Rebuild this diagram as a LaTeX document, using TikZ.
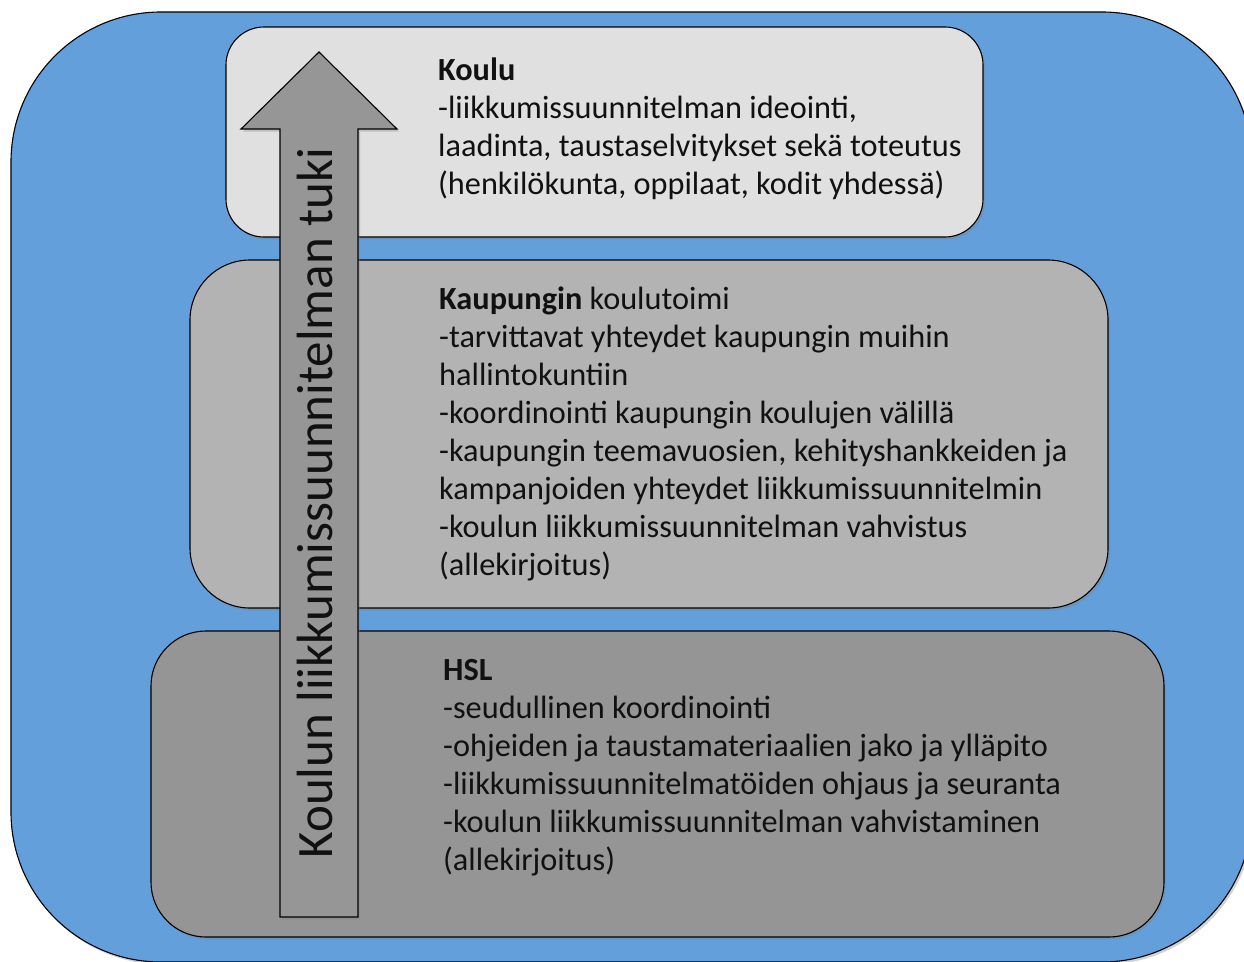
\documentclass[tikz,border=0pt]{standalone}
\usepackage{fontspec}
\usepackage{graphicx}
\setmainfont{Carlito}
\usetikzlibrary{shadows}
\definecolor{bluebg}{RGB}{99,159,219}
\definecolor{boxA}{RGB}{224,224,224}
\definecolor{boxB}{RGB}{179,179,179}
\definecolor{boxC}{RGB}{149,149,149}
\definecolor{arrowc}{RGB}{150,150,150}
\definecolor{txt}{RGB}{17,17,17}
\tikzset{
  shad/.style={drop shadow={opacity=0.35, shadow xshift=2pt, shadow yshift=-2.5pt}},
  panel/.style={draw=black, line width=1.1pt, shad, inner sep=0pt},
  bodytext/.style={anchor=base west, inner sep=0pt, text=txt, font=\fontsize{32.3}{38}\selectfont},
  bigarrow/.style={draw=black, line width=1.1pt, fill=arrowc, shad},
}
\begin{document}
\begin{tikzpicture}[x=1pt,y=-1pt]
\useasboundingbox (0,0) rectangle (1244,961);
% outer blue panel
\node[panel, fill=bluebg, rounded corners=150pt, minimum width=1241pt, minimum height=950pt] (outer) at (631.5,487) {};
% three level boxes
\node[panel, fill=boxA, rounded corners=38pt, minimum width=757pt, minimum height=210pt] (koulu) at (604.5,132) {};
\node[panel, fill=boxB, rounded corners=60pt, minimum width=918pt, minimum height=348pt] (kaupunki) at (649,434) {};
\node[panel, fill=boxC, rounded corners=55pt, minimum width=1013pt, minimum height=306pt] (hsl) at (657.5,784) {};
% upward arrow
\coordinate (atip) at (319,52);
\draw[bigarrow] (280,917) -- (280,129) -- (241,129) -- (atip) -- (397,129) -- (358,129) -- (358,917) -- cycle;
\node[inner sep=0pt, rotate=90, anchor=base, text=txt, font=\fontsize{51}{51}\selectfont] (arrowtext) at (332,503)
  {Koulun liikkumissuunnitelman tuki};
% texts
\node[bodytext] (kouluT) at (438,80) {\vtop{%
  \hbox{\textbf{Koulu}}
  \hbox{-liikkumissuunnitelman ideointi,}
  \hbox{laadinta, taustaselvitykset sekä toteutus}
  \hbox{(henkilökunta, oppilaat, kodit yhdessä)}}};
\node[bodytext] (kaupunkiT) at (439,309) {\vtop{%
  \hbox{\textbf{Kaupungin} koulutoimi}
  \hbox{-tarvittavat yhteydet kaupungin muihin}
  \hbox{hallintokuntiin}
  \hbox{-koordinointi kaupungin koulujen välillä}
  \hbox{-kaupungin teemavuosien, kehityshankkeiden ja}
  \hbox{kampanjoiden yhteydet liikkumissuunnitelmin}
  \hbox{-koulun liikkumissuunnitelman vahvistus}
  \hbox{(allekirjoitus)}}};
\node[bodytext] (hslT) at (443,680) {\vtop{%
  \hbox{\textbf{HSL}}
  \hbox{-seudullinen koordinointi}
  \hbox{-ohjeiden ja taustamateriaalien jako ja ylläpito}
  \hbox{-liikkumissuunnitelmatöiden ohjaus ja seuranta}
  \hbox{-koulun liikkumissuunnitelman vahvistaminen}
  \hbox{(allekirjoitus)}}};
\end{tikzpicture}
\end{document}
